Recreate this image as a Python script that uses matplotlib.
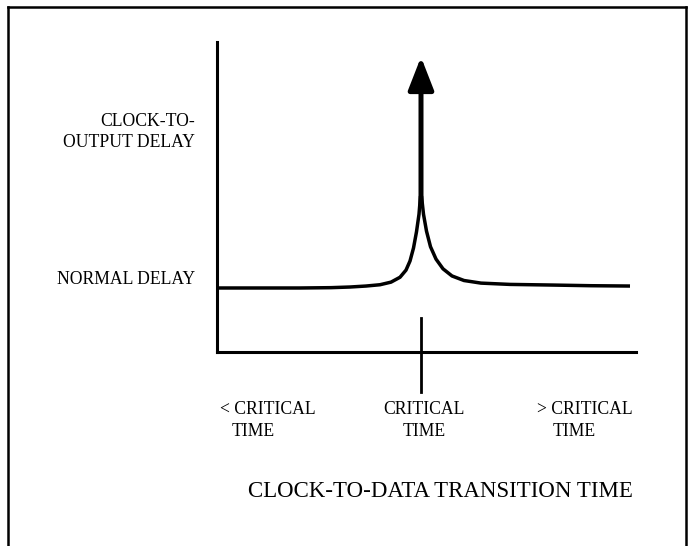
import matplotlib
matplotlib.use("Agg")
import matplotlib.pyplot as plt
from matplotlib.lines import Line2D
from matplotlib.patches import FancyArrowPatch

plt.rcParams["font.family"] = ["Liberation Serif", "DejaVu Serif"]

# Delay curve: time offset from the critical time (arb. units) vs delay
# (normal delay = 1.0). Two branches that meet at the critical time.
left_time = [-2.04, -1.60, -1.21, -0.90, -0.71, -0.55, -0.41, -0.30, -0.21,
             -0.15, -0.11, -0.075, -0.045, -0.02, -0.005]
left_delay = [0.985, 0.985, 0.985, 0.99, 1.0, 1.015, 1.035, 1.075, 1.15,
              1.26, 1.40, 1.60, 1.85, 2.12, 2.40]
right_time = [0.005, 0.025, 0.055, 0.095, 0.15, 0.22, 0.31, 0.43, 0.60,
              0.89, 1.32, 1.70, 2.09]
right_delay = [2.40, 2.12, 1.86, 1.62, 1.43, 1.28, 1.17, 1.10, 1.06,
               1.04, 1.03, 1.02, 1.015]

critical_time = 0.0
normal_delay = 1.0
arrow_base = 2.25
arrow_tip = 4.54

tick_rows = [
    # (text, x, row) – row 0 is the upper line of a two-line label
    ("< CRITICAL", -2.01, 0),
    ("TIME", -1.89, 1),
    ("> CRITICAL", 1.16, 0),
    ("TIME", 1.32, 1),
]
center_label = ["CRITICAL", "TIME"]
x_title = "CLOCK-TO-DATA TRANSITION TIME"
y_top_label = ["CLOCK-TO-", "OUTPUT DELAY"]
y_normal_label = "NORMAL DELAY"

W, H = 692, 546
fig = plt.figure(figsize=(W / 100, H / 100), dpi=100)

# outer frame, open at the bottom
for xs, ys in [([8, 8], [0, 539]), ([8, 686], [539, 539]), ([686, 686], [539, 0])]:
    fig.add_artist(Line2D([x / W for x in xs], [y / H for y in ys],
                          color="black", lw=1.8, transform=fig.transFigure))

ax = fig.add_axes([217 / W, (H - 352) / H, (636 - 217) / W, 310 / H])
ax.set_xlim(-2.04, 2.15)
ax.set_ylim(0, 4.77)
for side in ["top", "right"]:
    ax.spines[side].set_visible(False)
for side in ["left", "bottom"]:
    ax.spines[side].set_linewidth(2.2)
ax.set_xticks([])
ax.set_yticks([])
ax.patch.set_alpha(0)

ax.plot(left_time, left_delay, color="black", lw=2.5, solid_capstyle="butt",
        solid_joinstyle="round", clip_on=False)
ax.plot(right_time, right_delay, color="black", lw=2.5, solid_capstyle="butt",
        solid_joinstyle="round", clip_on=False)

arrow = FancyArrowPatch((critical_time, arrow_base), (critical_time, arrow_tip),
                        arrowstyle="-|>,head_length=2.0,head_width=0.78",
                        mutation_scale=10, lw=3.6, color="black",
                        shrinkA=0, shrinkB=0, clip_on=False)
ax.add_patch(arrow)

# critical-time tick crossing the time axis
ax.plot([critical_time, critical_time], [0.52, -0.62], color="black", lw=2.0,
        clip_on=False)

fs = 12.7
row_y = [-0.89, -1.23]
for text, x, row in tick_rows:
    ax.text(x, row_y[row], text, ha="left", va="center", fontsize=fs,
            clip_on=False)
for row, text in enumerate(center_label):
    ax.text(critical_time + 0.03, row_y[row], text, ha="center", va="center",
            fontsize=fs, clip_on=False)

ax.text(0.19, -2.15, x_title, ha="center", va="center", fontsize=16.5,
        clip_on=False)

lab_x = -22 / 419  # right edge of the delay labels, axes fraction
ytr = ax.get_yaxis_transform()
ax.text(lab_x, 3.54, y_top_label[0], transform=ytr, ha="right", va="center",
        fontsize=fs)
ax.text(lab_x, 3.23, y_top_label[1], transform=ytr, ha="right", va="center",
        fontsize=fs)
ax.text(lab_x, normal_delay + 0.11, y_normal_label, transform=ytr,
        ha="right", va="center", fontsize=fs)

fig.savefig("out.png", dpi=100)
